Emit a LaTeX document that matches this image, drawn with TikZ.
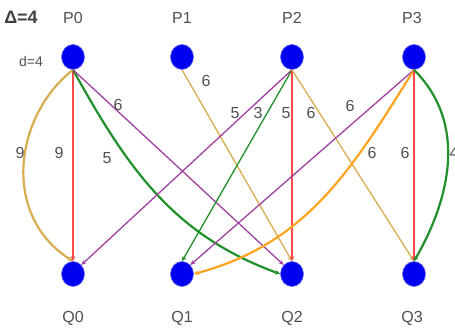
\documentclass[tikz,border=0pt]{standalone}
\usepackage{fontspec}
\setmainfont{Liberation Sans}
\usetikzlibrary{arrows.meta,shapes.geometric}
\definecolor{txt}{HTML}{505050}
\definecolor{epurple}{HTML}{A040A0}
\definecolor{egold}{HTML}{D8AC50}
\definecolor{egreen}{HTML}{20902A}
\definecolor{ered}{HTML}{FF4848}
\definecolor{eorange}{HTML}{FFA320}
\definecolor{vblue}{HTML}{0000F0}
\tikzset{
  vert/.style={ellipse, fill=vblue, draw=vblue!60!white, line width=0.6pt, minimum width=23pt, minimum height=25pt, inner sep=0pt},
  lbl/.style={text=txt, font=\fontsize{16}{16}\selectfont, inner sep=0pt},
  wt/.style={text=txt, font=\fontsize{16}{16}\selectfont, inner sep=0pt},
  edge/.style={-{Stealth[length=5pt,width=4.5pt]}, line width=1.3pt},
  thick edge/.style={-{Stealth[length=5pt,width=4.5pt]}, line width=2.2pt},
}
\begin{document}
\begin{tikzpicture}[x=1pt,y=-1pt]
\useasboundingbox (0,0) rectangle (455,332);
% vertices
\node[vert] (P0) at (73,57) {};
\node[vert] (P1) at (182,57) {};
\node[vert] (P2) at (292,57) {};
\node[vert] (P3) at (414,57) {};
\node[vert] (Q0) at (73,274) {};
\node[vert] (Q1) at (182,274) {};
\node[vert] (Q2) at (292,274) {};
\node[vert] (Q3) at (414,274) {};
% labels
\node[lbl] (lP0) at (73,18) {P0};
\node[lbl] (lP1) at (182,18) {P1};
\node[lbl] (lP2) at (292,18) {P2};
\node[lbl] (lP3) at (412,18) {P3};
\node[lbl] (lQ0) at (73,318) {Q0};
\node[lbl] (lQ1) at (182,318) {Q1};
\node[lbl] (lQ2) at (292,318) {Q2};
\node[lbl] (lQ3) at (412,318) {Q3};
\node[lbl, text=black!75, font=\fontsize{18}{18}\selectfont\bfseries] (delta) at (21,17) {Δ=4};
\node[lbl, font=\fontsize{14}{14}\selectfont] (deg) at (31,61) {d=4};
% edges
\draw[thick edge, egold] (P0.south) .. controls (15,115) and (0,215) .. (Q0.north);
\draw[edge, ered] (P0.south) -- (Q0.north);
\draw[thick edge, egreen] (P0.south) to[out=-61,in=160] (Q2.west);
\draw[edge, epurple] (P0.south) -- (Q2.north west);
\draw[edge, egold] (P1.south) -- (Q2.north);
\draw[edge, epurple] (P2.south) -- (Q0.north east);
\draw[edge, egreen] (P2.south) -- (Q1.north);
\draw[edge, ered] (P2.south) -- (Q2.north);
\draw[edge, egold] (P2.south) -- (Q3.north);
\draw[edge, epurple] (P3.south) -- (Q1.north east);
\draw[thick edge, eorange] (P3.south) to[out=238,in=15] (Q1.east);
\draw[edge, ered] (P3.south) -- (Q3.north);
\draw[thick edge, egreen] (P3.south) to[out=-45,in=60] (Q3.north);
% weights
\node[wt] (w1) at (20,153) {9};
\node[wt] (w2) at (59,153) {9};
\node[wt] (w3) at (107,158) {5};
\node[wt] (w4) at (118,105) {6};
\node[wt] (w5) at (206,81) {6};
\node[wt] (w6) at (235,113) {5};
\node[wt] (w7) at (258,113) {3};
\node[wt] (w8) at (286,113) {5};
\node[wt] (w9) at (311,113) {6};
\node[wt] (w10) at (350,106) {6};
\node[wt] (w11) at (372,153) {6};
\node[wt] (w12) at (405,153) {6};
\node[wt] (w13) at (454,153) {4};
\end{tikzpicture}
\end{document}
